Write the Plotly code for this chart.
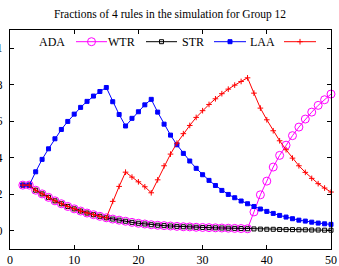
import plotly.graph_objects as go

steps = list(range(2, 51))

ada = [0.25, 0.25, 0.222, 0.202, 0.183, 0.164, 0.148, 0.133, 0.120, 0.108, 0.097, 0.088,
       0.079, 0.071, 0.064, 0.058, 0.052, 0.046, 0.041, 0.037, 0.033, 0.030, 0.028,
       0.026, 0.024, 0.022, 0.021, 0.019, 0.018, 0.017, 0.016, 0.015, 0.014, 0.013,
       0.012, 0.011,
       0.103, 0.197, 0.272, 0.349, 0.413, 0.469, 0.521, 0.568, 0.612, 0.650, 0.687,
       0.718, 0.749]

wtr = [0.25, 0.25, 0.222, 0.202, 0.183, 0.164, 0.148, 0.133, 0.120, 0.108, 0.097, 0.088,
       0.079, 0.071, 0.064, 0.058, 0.052, 0.046, 0.041, 0.037, 0.033, 0.030, 0.028,
       0.026, 0.024, 0.022, 0.021, 0.019, 0.018, 0.017, 0.016, 0.015, 0.014, 0.013,
       0.012, 0.011,
       0.010, 0.009, 0.008, 0.008, 0.007, 0.006, 0.006, 0.005, 0.005, 0.004, 0.004,
       0.003, 0.003]

st = [0.25, 0.25, 0.323, 0.391, 0.449, 0.504, 0.555, 0.599, 0.639, 0.676, 0.709, 0.738,
      0.763, 0.785, 0.707, 0.637, 0.574, 0.616, 0.652, 0.690, 0.720, 0.650, 0.584,
      0.524, 0.471, 0.424, 0.382, 0.342, 0.307, 0.276, 0.248, 0.221, 0.199, 0.181,
      0.163, 0.148, 0.133, 0.119, 0.106, 0.095, 0.084, 0.075, 0.066, 0.058, 0.053,
      0.047, 0.042, 0.038, 0.035]

laa = [0.25, 0.25, 0.222, 0.202, 0.183, 0.164, 0.148, 0.133, 0.120, 0.108, 0.097, 0.088,
       0.079, 0.071, 0.161, 0.243, 0.321, 0.294, 0.268, 0.241, 0.208, 0.279, 0.356,
       0.420, 0.480, 0.532, 0.577, 0.621, 0.658, 0.692, 0.723, 0.751, 0.776, 0.798,
       0.818, 0.838, 0.754, 0.672, 0.608, 0.548, 0.493, 0.444, 0.398, 0.356, 0.320,
       0.287, 0.258, 0.234, 0.212]

names = ["ADA", "WTR", "STR", "LAA"]
colors = ["#ff00ff", "#000000", "#0000ff", "#ff0000"]
symbols = ["circle-open", "square-open", "square", "cross-thin-open"]
sizes = [8, 4, 4, 4]
series = [ada, wtr, st, laa]

FONT = "Liberation Serif, Times New Roman, serif"

fig = go.Figure()
for name, col, sym, sz, ys in zip(names, colors, symbols, sizes, series):
    fig.add_trace(go.Scatter(
        x=steps, y=ys, name=name, mode="lines+markers",
        line=dict(color=col, width=1),
        marker=dict(symbol=sym, size=sz, color=col, line=dict(color=col, width=1)),
        showlegend=False, cliponaxis=False,
    ))

# gnuplot-style key (text then sample), drawn in an overlay frame of the plot area
PW, PH = 321.0, 219.0
key_y = (249 - 41.7) / PH
text_right = [67, 137, 206, 277]
samp = [(76, 107), (146, 177), (214, 246), (284, 316)]
for name, col, sym, sz, tr, (a, b) in zip(names, colors, symbols, sizes, text_right, samp):
    xa, xb = (a - 10) / PW, (b - 10) / PW
    fig.add_trace(go.Scatter(
        x=[xa, xb], y=[key_y, key_y], mode="lines", xaxis="x2", yaxis="y2",
        line=dict(color=col, width=1), showlegend=False, hoverinfo="skip",
        cliponaxis=False))
    fig.add_trace(go.Scatter(
        x=[(xa + xb) / 2], y=[key_y], mode="markers", xaxis="x2", yaxis="y2",
        marker=dict(symbol=sym, size=sz, color=col, line=dict(color=col, width=1)),
        showlegend=False, hoverinfo="skip", cliponaxis=False))
    fig.add_annotation(
        x=(tr - 10) / PW, y=key_y, xref="paper", yref="paper", text=name,
        showarrow=False, xanchor="right", yanchor="middle",
        font=dict(family=FONT, size=12, color="black"))

axis_common = dict(
    showgrid=False, zeroline=False, showline=True, linecolor="black", linewidth=1,
    mirror="ticks", ticks="inside", ticklen=4, tickcolor="black", tickwidth=1,
    tickfont=dict(family=FONT, size=12, color="black"), automargin=False,
)

fig.update_layout(
    template="none",
    width=339, height=266,
    margin=dict(l=10, r=8, t=30, b=17, autoexpand=False),
    paper_bgcolor="white", plot_bgcolor="white",
    title=dict(text="Fractions of 4 rules in the simulation for Group 12",
               x=170 / 339, xanchor="center", y=1 - 14 / 266, yanchor="middle",
               font=dict(family=FONT, size=11.5, color="black")),
    xaxis=dict(range=[0, 50], dtick=10, tick0=0, **axis_common),
    yaxis=dict(range=[-0.1, 1.1], dtick=0.2, tick0=0, ticklabelstandoff=4, **axis_common),
    xaxis2=dict(range=[0, 1], overlaying="x", visible=False, anchor="y2"),
    yaxis2=dict(range=[0, 1], overlaying="y", visible=False, anchor="x2"),
    showlegend=False,
)

fig.write_html("out.html", config={"displayModeBar": False},
               post_script="document.body.style.margin='0';document.body.style.overflow='hidden';")
